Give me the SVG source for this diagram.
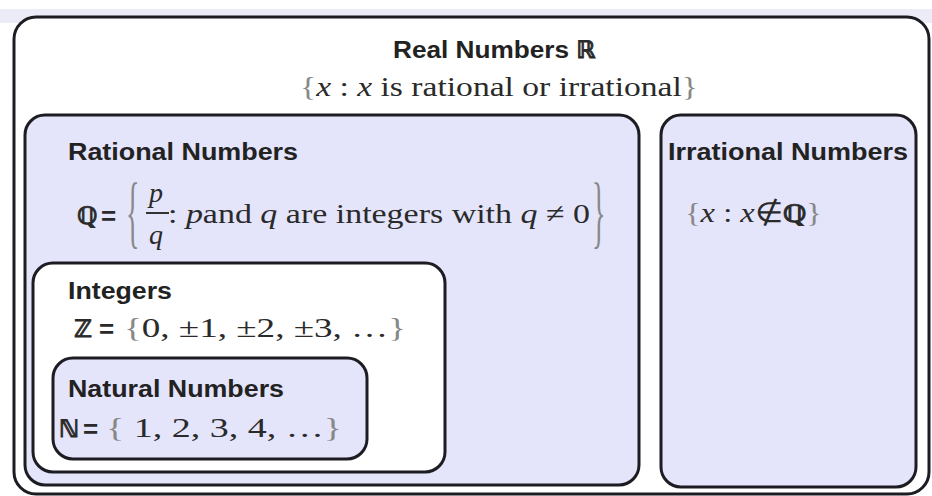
<svg xmlns="http://www.w3.org/2000/svg" width="932" height="496" viewBox="0 0 932 496">
<style>
.box{stroke:#1c1c22;stroke-width:3}
.lav{fill:#e4e4fa}
.wht{fill:#ffffff}
.lbl{font-family:"Liberation Sans",Arial,sans-serif;font-weight:bold;font-size:23px;fill:#222}
.eq{font-family:"Liberation Sans",Arial,sans-serif;font-weight:bold;font-size:26px;fill:#2a2a2a}
.sym{font-family:"DejaVu Sans",sans-serif;font-weight:bold;font-size:24px;fill:#2a2a2a;stroke:#2a2a2a;stroke-width:0.9}
.ser{font-family:"Liberation Serif","Times New Roman",serif;font-size:28px;fill:#2a2a2a}
.it{font-style:italic}
.br{font-family:"Liberation Serif","Times New Roman",serif;font-size:28px;fill:#888}
</style>
<rect x="0" y="0" width="932" height="496" fill="#ffffff"/>
<rect x="0" y="9" width="932" height="14" fill="#ececf8"/>
<g id="real">
<rect class="box wht" x="14" y="17" width="915" height="477" rx="22"/>
<text class="lbl" x="393" y="58" textLength="176" lengthAdjust="spacingAndGlyphs">Real Numbers</text>
<text class="sym" x="576" y="58">ℝ</text>
<text class="ser" x="300" y="96" textLength="398" lengthAdjust="spacingAndGlyphs"><tspan class="br">{</tspan><tspan class="it">x</tspan> : <tspan class="it">x</tspan>  is rational or irrational<tspan class="br">}</tspan></text>
</g>
<g id="rational">
<rect class="box lav" x="25" y="115" width="614" height="370" rx="20"/>
<text class="lbl" x="68" y="160" textLength="230" lengthAdjust="spacingAndGlyphs">Rational Numbers</text>
<text class="sym" x="77" y="224">ℚ</text>
<text class="eq" x="101" y="225">=</text>
<text class="br" transform="translate(126,238) scale(1,2.9)">{</text>
<text class="ser it" x="149" y="202">p</text>
<line x1="146" y1="213" x2="169" y2="213" stroke="#333" stroke-width="2"/>
<text class="ser it" x="149" y="244">q</text>
<text class="ser" x="168" y="223" textLength="422" lengthAdjust="spacingAndGlyphs">: <tspan class="it">p</tspan>and <tspan class="it">q</tspan> are integers with <tspan class="it">q</tspan> ≠  0</text>
<text class="br" transform="translate(592,238) scale(1,2.9)">}</text>
</g>
<g id="irrational">
<rect class="box lav" x="661" y="115" width="255" height="372" rx="20"/>
<text class="lbl" x="668" y="160" textLength="240" lengthAdjust="spacingAndGlyphs">Irrational Numbers</text>
<text class="ser" x="685" y="222" textLength="137" lengthAdjust="spacingAndGlyphs"><tspan class="br">{</tspan><tspan class="it">x</tspan> : <tspan class="it">x</tspan>∉<tspan class="sym">ℚ</tspan><tspan class="br">}</tspan></text>
</g>
<g id="integers">
<rect class="box wht" x="33" y="263" width="412" height="209" rx="20"/>
<text class="lbl" x="68" y="299" textLength="104" lengthAdjust="spacingAndGlyphs">Integers</text>
<text class="sym" x="74" y="337">ℤ</text>
<text class="eq" x="99" y="338">=</text>
<text class="ser" x="124" y="337" textLength="282" lengthAdjust="spacingAndGlyphs"><tspan class="br">{</tspan>0, ±1, ±2, ±3, …<tspan class="br">}</tspan></text>
</g>
<g id="natural">
<rect class="box lav" x="53" y="358" width="314" height="101" rx="20"/>
<text class="lbl" x="68" y="397" textLength="216" lengthAdjust="spacingAndGlyphs">Natural Numbers</text>
<text class="sym" x="59" y="437">ℕ</text>
<text class="eq" x="83" y="438">=</text>
<text class="ser" x="106" y="437" textLength="236" lengthAdjust="spacingAndGlyphs"><tspan class="br">{</tspan> 1, 2, 3, 4, …<tspan class="br">}</tspan></text>
</g>
<g id="connectors"/>
</svg>
